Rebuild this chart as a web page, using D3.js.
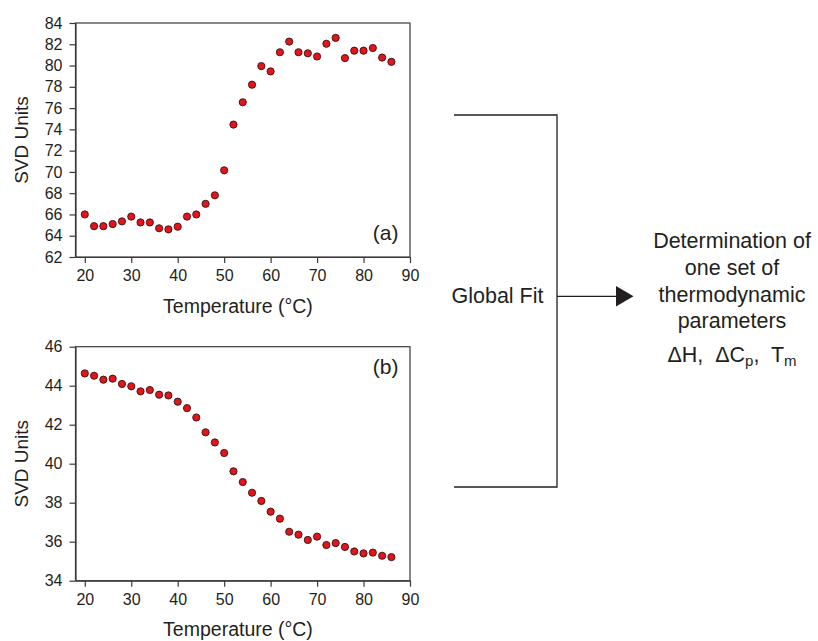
<!DOCTYPE html>
<html><head><meta charset="utf-8">
<script src="https://cdn.jsdelivr.net/npm/d3@7"></script>
<style>
body{margin:0;background:#fff;}
svg text{font-family:"Liberation Sans",Arial,sans-serif;fill:#231f20;}
</style></head>
<body><svg id="c" width="818" height="641"></svg>
<script>
const temps = [20,22,24,26,28,30,32,34,36,38,40,42,44,46,48,50,52,54,56,58,60,62,64,66,68,70,72,74,76,78,80,82,84,86];
const svdA = [66.0,64.9,64.9,65.1,65.35,65.8,65.25,65.25,64.7,64.6,64.85,65.8,66.0,67.0,67.8,70.15,74.45,76.55,78.2,79.95,79.45,81.25,82.25,81.25,81.15,80.85,82.05,82.6,80.7,81.4,81.4,81.65,80.75,80.35];
const svdB = [44.63,44.51,44.31,44.36,44.09,43.97,43.71,43.78,43.54,43.5,43.18,42.85,42.37,41.61,41.09,40.55,39.61,39.06,38.51,38.09,37.54,37.18,36.51,36.36,36.09,36.26,35.83,35.93,35.73,35.5,35.4,35.44,35.28,35.21];
const xTicks = [20,30,40,50,60,70,80,90];
const yTicksA = [62,64,66,68,70,72,74,76,78,80,82,84];
const yTicksB = [34,36,38,40,42,44,46];
const panelLabels = ["(a)","(b)"];
const xTitle = "Temperature (°C)";
const yTitle = "SVD Units";
const rightLines = ["Determination of","one set of","thermodynamic","parameters"];

const svg = d3.select("#c");
const lineCol = "#3a3a3a";

function panel(top, bottom, yDomain, yTicks, values, label, labelBaseline){
  const x = d3.scaleLinear().domain([18,90]).range([75.5,410]);
  const y = d3.scaleLinear().domain(yDomain).range([bottom, top]);
  const g = svg.append("g");
  g.append("rect").attr("x",x(18)).attr("y",y(yDomain[1])).attr("width",x(90)-x(18)).attr("height",y(yDomain[0])-y(yDomain[1]))
    .attr("fill","none").attr("stroke",lineCol).attr("stroke-width",1.2);
  const xa = g.append("g").attr("transform",`translate(0,${bottom})`)
    .call(d3.axisBottom(x).tickValues(xTicks).tickSize(6).tickPadding(7).tickSizeOuter(0));
  const ya = g.append("g").attr("transform",`translate(${x(18)},0)`)
    .call(d3.axisLeft(y).tickValues(yTicks).tickSize(6).tickPadding(7).tickSizeOuter(0));
  [xa,ya].forEach(a=>{
    a.select(".domain").attr("stroke",lineCol).attr("stroke-width",1.2);
    a.selectAll(".tick line").attr("stroke",lineCol).attr("stroke-width",1.2);
    a.selectAll(".tick text").style("font-family",'"Liberation Sans",Arial,sans-serif').style("font-size","16px").attr("fill","#231f20");
  });
  g.selectAll("circle").data(values).join("circle")
    .attr("cx",(d,i)=>x(temps[i])).attr("cy",d=>y(d)).attr("r",3.6)
    .attr("fill","#e3141b").attr("stroke","#3a1010").attr("stroke-width",0.9);
  g.append("text").attr("x",238).attr("y",bottom+55.5).attr("text-anchor","middle")
    .style("font-size","19.5px").text(xTitle);
  g.append("text").attr("transform",`translate(28,${(top+bottom)/2}) rotate(-90)`).attr("text-anchor","middle")
    .style("font-size","19px").text(yTitle);
  g.append("text").attr("x",398.5).attr("y",labelBaseline).attr("text-anchor","end")
    .style("font-size","21px").text(label);
}

panel(23, 257, [62,84], yTicksA, svdA, panelLabels[0], 239.6);
panel(346.7, 580.7, [34,46], yTicksB, svdB, panelLabels[1], 373.6);

const br = svg.append("g").attr("stroke","#231f20").attr("stroke-width",1.3).attr("fill","none");
br.append("path").attr("d","M454,115 H557 V487 H454");
br.append("line").attr("x1",557).attr("x2",617).attr("y1",296.3).attr("y2",296.3);
svg.append("path").attr("d","M616,286 L633.5,296.3 L616,306.6 Z").attr("fill","#231f20");
svg.append("text").attr("x",497.5).attr("y",302.7).attr("text-anchor","middle").style("font-size","21.5px").text("Global Fit");

const rt = svg.append("g").style("font-size","21.5px");
const baselines = [248.3,275,301.7,328.3];
rightLines.forEach((s,i)=>{
  rt.append("text").attr("x",732).attr("y",baselines[i]).attr("text-anchor","middle").text(s);
});
const t = rt.append("text").attr("x",732).attr("y",361.7).attr("text-anchor","middle").style("white-space","pre");
t.append("tspan").text("\u0394H,  \u0394C");
t.append("tspan").attr("dy",4).style("font-size","15px").text("p");
t.append("tspan").attr("dy",-4).text(",  T");
t.append("tspan").attr("dy",4).style("font-size","15px").text("m");
</script></body></html>
